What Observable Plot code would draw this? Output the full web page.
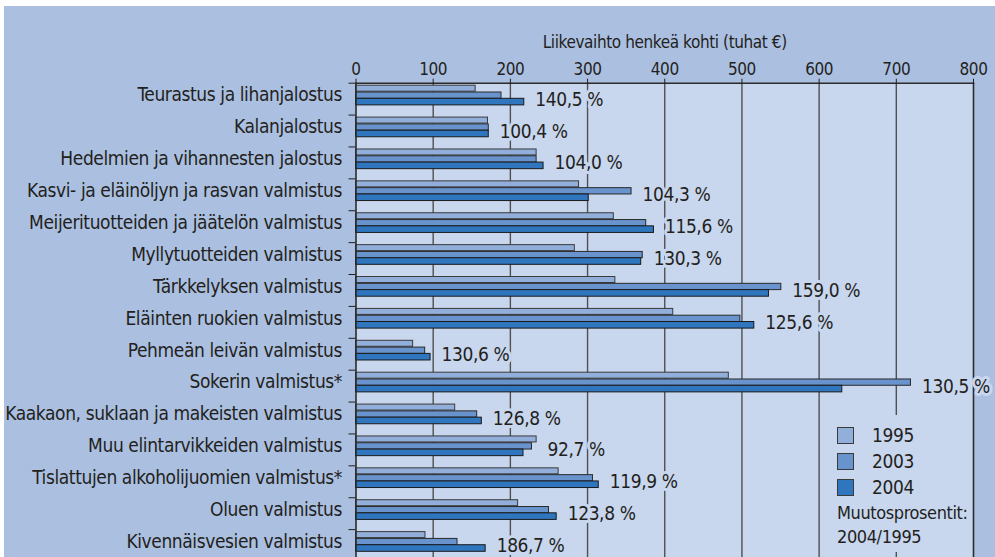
<!DOCTYPE html>
<html><head><meta charset="utf-8">
<script src="https://cdn.jsdelivr.net/npm/d3@7"></script>
<script src="https://cdn.jsdelivr.net/npm/@observablehq/plot@0.6"></script>
<style>
html,body{margin:0;padding:0;background:#fff;overflow:hidden;width:995px;height:557px}
#wrap{position:absolute;left:4px;top:6px;width:991px;height:555px;background:#abc0e1;overflow:hidden}
#wrap svg{position:absolute;left:0;top:0}
#wrap svg text{letter-spacing:-0.4px}
.f{font-family:"DejaVu Sans Condensed","Liberation Sans Narrow",sans-serif;color:#231f20}
#legend{position:absolute;left:824px;top:409px;width:140px;height:137px;background:#c8d6ee}
#legend .sw{position:absolute;left:9px;width:15px;height:15px;border:1px solid #3a3a3a}
#legend .lt{position:absolute;left:44px;font-size:19px;line-height:22px;letter-spacing:-0.4px}
#legend .nt{position:absolute;left:9px;font-size:18px;line-height:22px;white-space:nowrap;letter-spacing:-0.4px}
</style></head><body>
<div id="wrap" class="f"></div>
<script>
const categories = [
  "Teurastus ja lihanjalostus",
  "Kalanjalostus",
  "Hedelmien ja vihannesten jalostus",
  "Kasvi- ja eläinöljyn ja rasvan valmistus",
  "Meijerituotteiden ja jäätelön valmistus",
  "Myllytuotteiden valmistus",
  "Tärkkelyksen valmistus",
  "Eläinten ruokien valmistus",
  "Pehmeän leivän valmistus",
  "Sokerin valmistus*",
  "Kaakaon, suklaan ja makeisten valmistus",
  "Muu elintarvikkeiden valmistus",
  "Tislattujen alkoholijuomien valmistus*",
  "Oluen valmistus",
  "Kivennäisvesien valmistus"
];
const v1995 = [155, 171, 234, 289, 334, 283.5, 336, 411, 74, 483, 128.5, 234, 262.5, 210, 90];
const v2003 = [188.5, 172, 234, 357, 376, 371.5, 551, 498, 89.6, 719, 157, 228, 307, 250, 131.5];
const v2004 = [218, 172, 243, 301.5, 386, 369.5, 535, 516, 96.6, 630, 163, 217, 314.5, 260, 168];
const pct = ["140,5 %","100,4 %","104,0 %","104,3 %","115,6 %","130,3 %","159,0 %","125,6 %","130,6 %","130,5 %","126,8 %","92,7 %","119,9 %","123,8 %","186,7 %"];
const xTicks = [0,100,200,300,400,500,600,700,800];
const gridTicks = [100,200,300,400,500,600,700];
const years = ["1995","2003","2004"];
const colors = ["#92afdb","#6893cc","#2f76be"];
const title = "Liikevaihto henkeä kohti (tuhat €)";
const noteLines = ["Muutosprosentit:", "2004/1995"];

const FONT = '"DejaVu Sans Condensed","Liberation Sans Narrow",sans-serif';
const PLOTBG = "#c8d6ee";
const INK = "#231f20";

const rows = categories.map((c, i) => ({
  category: c, v1995: v1995[i], v2003: v2003[i], v2004: v2004[i], pct: pct[i],
  max: Math.max(v1995[i], v2003[i], v2004[i])
}));

const bw = 31.9;
const plot = Plot.plot({
  width: 991, height: 555,
  marginLeft: 351.5, marginRight: 22, marginTop: 76.7, marginBottom: 0,
  style: {background: "transparent", fontFamily: FONT, color: INK, overflow: "visible"},
  x: {domain: [0, 800]},
  y: {domain: categories, padding: 0, round: false},
  marks: [
    Plot.frame({fill: PLOTBG, stroke: null}),
    Plot.gridX(gridTicks, {stroke: "#505050", strokeOpacity: 1, strokeWidth: 1.4}),
    Plot.barX(rows, {x: "v1995", y: "category", fill: colors[0], stroke: "#3a3a3a", strokeWidth: 1, insetTop: 2.5, insetBottom: bw - 8.5}),
    Plot.barX(rows, {x: "v2003", y: "category", fill: colors[1], stroke: "#2a2a2a", strokeWidth: 1, insetTop: 9.3, insetBottom: bw - 15.6}),
    Plot.barX(rows, {x: "v2004", y: "category", fill: colors[2], stroke: "#1a1a1a", strokeWidth: 1, insetTop: 15.6, insetBottom: bw - 22.2}),
    Plot.ruleX([0, 800], {stroke: "#2b2b2b", strokeWidth: 1.6}),
    Plot.frame({anchor: "top", stroke: "#2b2b2b", strokeWidth: 1.6}),
    Plot.axisX({anchor: "top", ticks: xTicks, tickSize: 5, tickPadding: 3, fontSize: 17, label: null, tickFormat: d => String(d)}),
    Plot.axisY({tickSize: 7, tickFormat: () => "", dy: -bw / 2, label: null}),
    Plot.axisY({tickSize: 0, tickPadding: 14, dy: -3.8, fontSize: 19, label: null}),
    Plot.text(rows, {x: "max", y: "category", text: "pct", textAnchor: "start", dx: 11, dy: 0.4, fontSize: 19, fill: INK, stroke: PLOTBG, strokeWidth: 6, paintOrder: "stroke"}),
    Plot.text([title], {frameAnchor: "top", dy: -40.7, fontSize: 17, fill: INK, lineAnchor: "middle"})
  ]
});
const wrap = document.getElementById("wrap");
wrap.appendChild(plot);

const legend = document.createElement("div");
legend.id = "legend";
years.forEach((y, i) => {
  const sw = document.createElement("div");
  sw.className = "sw";
  sw.style.top = (12 + i * 26) + "px";
  sw.style.background = colors[i];
  legend.appendChild(sw);
  const t = document.createElement("div");
  t.className = "lt";
  t.style.top = (9 + i * 26) + "px";
  t.textContent = y;
  legend.appendChild(t);
});
noteLines.forEach((s, i) => {
  const t = document.createElement("div");
  t.className = "nt";
  t.style.top = (87 + i * 24) + "px";
  t.textContent = s;
  legend.appendChild(t);
});
wrap.appendChild(legend);
</script>
</body></html>
